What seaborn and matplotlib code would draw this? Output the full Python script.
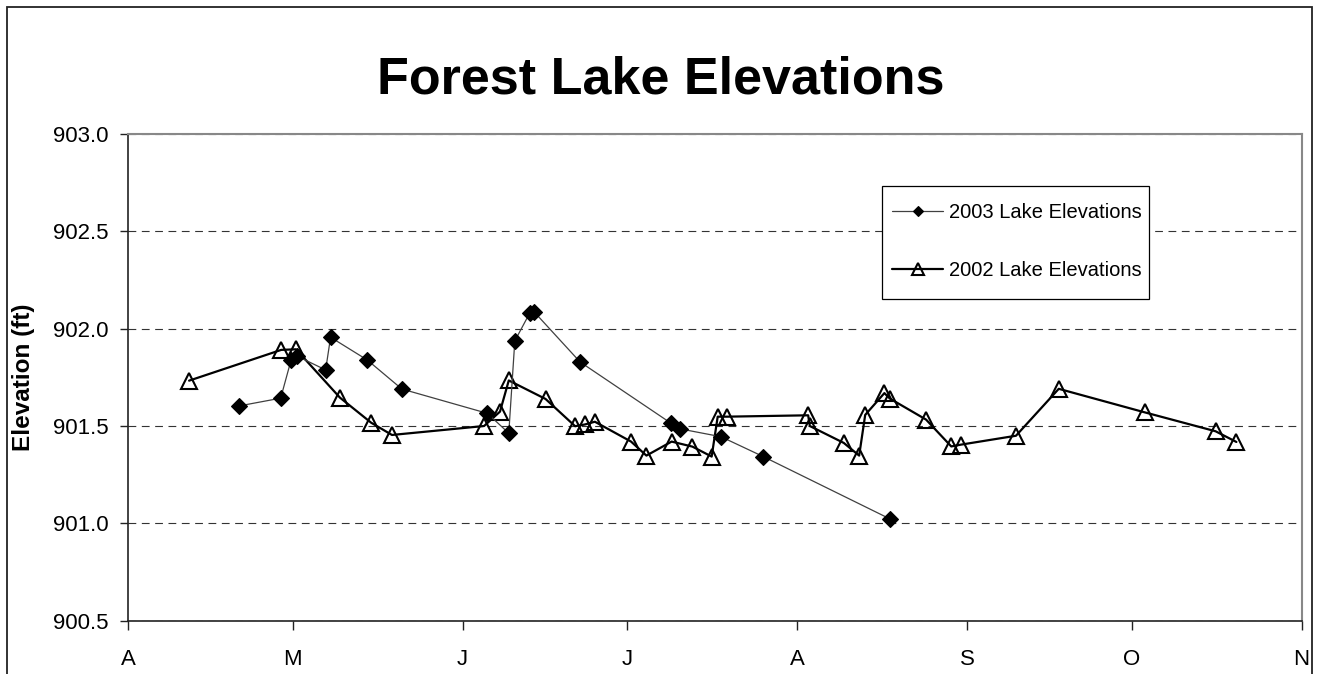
import matplotlib
matplotlib.use("Agg")
import matplotlib.pyplot as plt
from matplotlib.patches import Rectangle
from matplotlib.ticker import FormatStrFormatter
import seaborn as sns
import pandas as pd

# ---- data (x = days after April 1) ----
days_2003 = [20.2, 27.8, 29.7, 30.8, 36.0, 36.9, 43.6, 49.9, 65.5, 69.4,
             70.5, 73.2, 74.0, 82.4, 99.0, 100.7, 108.1, 115.8, 138.9]
elev_2003 = [901.603, 901.643, 901.839, 901.859, 901.788, 901.956, 901.839,
             901.690, 901.565, 901.463, 901.937, 902.079, 902.087, 901.829,
             901.514, 901.485, 901.445, 901.343, 901.023]

days_2002 = [11.1, 27.9, 30.6, 38.6, 44.3, 48.1, 64.9, 67.8, 69.4, 76.1,
             81.5, 83.3, 85.1, 91.7, 94.5, 99.1, 102.9, 106.4, 107.5, 109.2,
             124.0, 124.3, 130.5, 133.3, 134.4, 137.9, 138.9, 145.5, 150.1,
             151.8, 161.9, 169.7, 185.4, 198.3, 202.1]
elev_2002 = [901.733, 901.891, 901.894, 901.646, 901.517, 901.454, 901.500,
             901.574, 901.734, 901.639, 901.499, 901.508, 901.522, 901.420,
             901.348, 901.420, 901.394, 901.343, 901.548, 901.548, 901.555,
             901.500, 901.413, 901.348, 901.557, 901.669, 901.641, 901.533,
             901.395, 901.404, 901.450, 901.691, 901.570, 901.473, 901.418]

month_ticks = [0, 30, 61, 91, 122, 153, 183, 214]
month_labels = ["A", "M", "J", "J", "A", "S", "O", "N"]
y_ticks = [900.5, 901.0, 901.5, 902.0, 902.5, 903.0]

title = "Forest Lake Elevations"
ylabel = "Elevation (ft)"
label_2003 = "2003 Lake Elevations"
label_2002 = "2002 Lake Elevations"

# ---- style ----
sns.set_style("white")
plt.rcParams["font.family"] = ["Liberation Sans", "DejaVu Sans"]
plt.rcParams["text.color"] = "black"
plt.rcParams["axes.labelcolor"] = "black"
plt.rcParams["xtick.color"] = "black"
plt.rcParams["ytick.color"] = "black"

fig = plt.figure(figsize=(13.18, 6.74), dpi=100)
ax = fig.add_axes([0.0973, 0.0791, 0.8903, 0.7221])

sns.lineplot(x=days_2003, y=elev_2003, ax=ax, estimator=None, sort=False,
             color="#404040", linewidth=0.9, marker="D", markersize=8,
             markerfacecolor="black", markeredgecolor="black",
             markeredgewidth=0.8, label=label_2003, zorder=4)
sns.lineplot(x=days_2002, y=elev_2002, ax=ax, estimator=None, sort=False,
             color="black", linewidth=1.6, marker="^", markersize=12,
             markerfacecolor="none", markeredgecolor="black",
             markeredgewidth=1.5, label=label_2002, zorder=3)

ax.set_xlim(month_ticks[0], month_ticks[-1])
ax.set_ylim(y_ticks[0], y_ticks[-1])
ax.set_xticks(month_ticks)
ax.set_xticklabels(month_labels)
ax.set_yticks(y_ticks)
ax.yaxis.set_major_formatter(FormatStrFormatter("%.1f"))

ax.yaxis.grid(True, linestyle=(0, (7, 5)), color="#333333", linewidth=0.8)
ax.xaxis.grid(False)
ax.set_axisbelow(True)

for side in ("top", "right"):
    ax.spines[side].set_color("#888888")
    ax.spines[side].set_linewidth(1.5)
for side in ("left", "bottom"):
    ax.spines[side].set_color("#222222")
    ax.spines[side].set_linewidth(1.2)

ax.tick_params(axis="y", direction="out", length=5.8, width=1, color="#222222",
               labelsize=16, pad=8.5, left=True, labelcolor="black")
ax.tick_params(axis="x", direction="out", length=6.5, width=1, color="#222222",
               labelsize=16, pad=14, bottom=True, labelcolor="black")

ax.set_xlabel("")
ax.set_ylabel(ylabel, fontsize=17.5, fontweight="bold", color="black")
ax.yaxis.set_label_coords(-0.0795, 0.5)

# legend (entries without frame) plus a square frame box
leg = ax.legend(loc="upper left", bbox_to_anchor=(0.6506, 0.8576),
                frameon=False, fontsize=14.5, handlelength=2.57,
                handletextpad=0.3, labelspacing=1.9, borderpad=0,
                borderaxespad=0, markerscale=0.7)
for t in leg.get_texts():
    t.set_color("black")
ax.add_patch(Rectangle((0.6426, 0.661), 0.2270, 0.2328,
                       transform=ax.transAxes, fill=True, facecolor="white",
                       edgecolor="black", linewidth=0.9, zorder=5))
leg.set_zorder(6)

fig.suptitle(title, x=0.5015, y=0.8815, va="center", ha="center",
             fontsize=37.5, fontweight="bold", color="black")

fig.patches.append(Rectangle((0.00554, -0.01), 0.9897, 0.99917,
                             transform=fig.transFigure, fill=False,
                             edgecolor="#222222", linewidth=1.3))

fig.savefig("out.png", dpi=100)
